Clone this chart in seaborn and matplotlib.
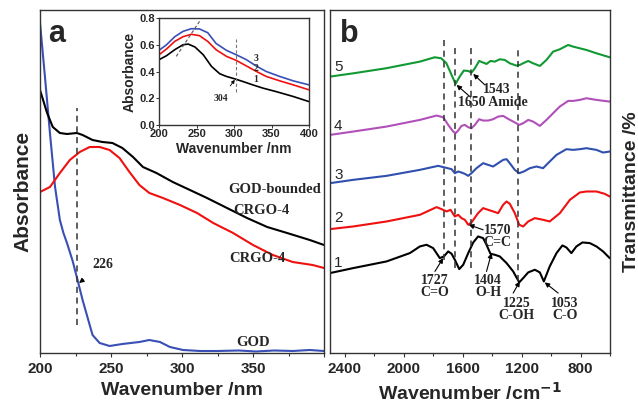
import numpy as np
import pandas as pd
import seaborn as sns
import matplotlib.pyplot as plt

# ---- panel a: UV-vis (arbitrary absorbance units) ----
god_wl = [200, 203.5, 207, 210.6, 214, 216.5, 219, 223, 226.8, 230, 234, 237, 242, 249, 258, 270, 277,
          284.5, 291.5, 300.7, 312.7, 325, 340, 352, 365, 378, 390, 400]
god_abs = [3.30, 2.76, 2.20, 1.66, 1.33, 1.20, 1.10, 0.92, 0.71, 0.53, 0.33, 0.18, 0.10, 0.07, 0.09, 0.11, 0.13,
           0.11, 0.06, 0.03, 0.02, 0.02, 0.025, 0.015, 0.025, 0.02, 0.03, 0.02]

bound_wl = [200, 205, 209, 214, 219, 226, 230, 237, 244, 251, 258, 265.5, 272.5, 282, 293.5, 305.6,
            317.6, 331.7, 345.8, 360, 374, 390, 400]
bound_abs = [2.63, 2.40, 2.26, 2.20, 2.19, 2.20, 2.18, 2.13, 2.11, 2.10, 2.05, 1.96, 1.86, 1.80, 1.71, 1.63,
             1.55, 1.45, 1.35, 1.26, 1.20, 1.13, 1.08]

crgo_wl = [200, 207, 214, 221, 228, 235, 242, 249, 256, 263, 270, 277, 286.6, 298.6, 310.6, 322, 336,
           350, 364, 378, 392, 400]
crgo_abs = [1.61, 1.66, 1.80, 1.93, 2.01, 2.06, 2.06, 2.03, 1.95, 1.81, 1.68, 1.60, 1.55, 1.48, 1.40, 1.30, 1.20,
            1.08, 0.98, 0.91, 0.88, 0.85]

# ---- inset ----
in1_wl = [200, 210, 221, 232, 239, 248, 259, 270, 281, 290, 301, 312, 325, 339, 356, 379, 400]
in1_abs = [0.488, 0.518, 0.563, 0.600, 0.605, 0.583, 0.525, 0.438, 0.383, 0.363, 0.345, 0.325, 0.300,
           0.275, 0.250, 0.213, 0.175]
in2_wl = [200, 210, 221, 232, 243, 254, 265, 276, 290, 303, 316, 330, 343, 361, 379, 400]
in2_abs = [0.525, 0.568, 0.625, 0.660, 0.678, 0.668, 0.625, 0.563, 0.513, 0.483, 0.443, 0.400, 0.363,
           0.330, 0.300, 0.263]
in3_wl = [200, 210, 221, 232, 243, 254, 265, 276, 290, 303, 316, 330, 343, 361, 379, 400]
in3_abs = [0.558, 0.600, 0.660, 0.700, 0.720, 0.718, 0.690, 0.610, 0.558, 0.525, 0.490, 0.440, 0.400,
           0.363, 0.330, 0.300]

# ---- panel b: FTIR (arbitrary transmittance units) ----
wn5 = [2500, 2340, 2120, 1890, 1790, 1745, 1710, 1675, 1648, 1620, 1592, 1562, 1540, 1517, 1488, 1460,
       1438, 1411, 1382, 1348, 1314, 1280, 1235, 1212, 1190, 1155, 1122, 1076, 1031, 986, 941, 884, 850,
       805, 760, 692, 602]
t5 = [83.0, 84.0, 85.5, 87.5, 88.8, 88.5, 87.0, 83.5, 80.8, 83.0, 84.8, 84.7, 84.2, 85.5, 87.7, 87.2,
      86.8, 87.7, 87.5, 88.2, 88.0, 87.0, 86.3, 86.5, 87.0, 87.7, 87.0, 86.2, 88.0, 90.5, 91.2, 92.5, 92.0,
      91.5, 91.0, 90.0, 88.8]

wn4 = [2500, 2342, 2116, 1890, 1777, 1732, 1698, 1664, 1648, 1630, 1608, 1585, 1562, 1540, 1517, 1488,
       1461, 1427, 1393, 1359, 1325, 1291, 1257, 1216, 1189, 1155, 1122, 1076, 1031, 986, 941, 884, 850,
       805, 760, 692, 602]
t4 = [65.5, 66.5, 68.0, 70.0, 71.3, 70.8, 68.5, 66.5, 66.0, 66.8, 68.2, 68.5, 67.8, 67.5, 68.5, 70.2,
      69.8, 69.8, 70.2, 71.0, 71.2, 70.3, 69.5, 68.5, 69.0, 70.0, 69.5, 68.2, 70.0, 72.0, 74.0, 75.7, 75.7,
      76.0, 76.5, 76.0, 75.5]

wn3 = [2500, 2342, 2116, 1890, 1766, 1720, 1675, 1653, 1630, 1608, 1585, 1562, 1540, 1506, 1461, 1427,
       1393, 1359, 1325, 1302, 1280, 1246, 1216, 1185, 1144, 1099, 1054, 1009, 963, 896, 850, 805, 760,
       692, 647, 602]
t3 = [51.0, 52.0, 53.2, 55.0, 56.2, 55.7, 55.2, 54.0, 54.5, 54.2, 53.8, 53.2, 54.0, 55.5, 57.0, 56.5,
      56.0, 57.0, 58.0, 58.2, 57.0, 55.0, 54.0, 54.5, 55.5, 56.0, 55.5, 57.5, 59.5, 61.2, 61.0, 61.2, 61.5,
      61.0, 60.2, 60.5]

wn2 = [2500, 2342, 2116, 1890, 1777, 1743, 1709, 1682, 1653, 1630, 1608, 1585, 1562, 1540, 1495, 1461,
       1427, 1393, 1359, 1325, 1302, 1280, 1246, 1216, 1189, 1155, 1110, 1054, 1009, 940, 872, 805, 760,
       692, 636, 602]
t2 = [37.2, 38.0, 39.5, 41.5, 43.8, 43.2, 42.5, 43.0, 41.0, 41.5, 40.5, 40.0, 38.5, 39.2, 42.0, 43.5,
      43.0, 42.5, 42.0, 44.5, 45.5, 44.8, 42.0, 38.5, 38.0, 39.5, 40.5, 40.0, 39.5, 42.0, 46.0, 48.2, 48.5,
      48.5, 47.8, 47.0]

wn1 = [2500, 2342, 2116, 1958, 1890, 1845, 1800, 1755, 1727, 1698, 1675, 1653, 1623, 1596, 1562, 1528,
       1495, 1461, 1438, 1411, 1382, 1348, 1302, 1257, 1216, 1189, 1155, 1110, 1076, 1049, 1009, 963, 923,
       896, 862, 828, 787, 737, 692, 647, 602]
t1 = [24.0, 25.5, 27.5, 30.0, 32.0, 32.5, 31.5, 28.5, 29.0, 30.5, 29.8, 28.0, 25.2, 26.5, 30.0, 33.2,
      35.0, 34.5, 32.5, 29.8, 29.5, 29.0, 27.0, 24.5, 21.2, 22.5, 24.2, 25.0, 24.2, 21.5, 26.0, 30.0, 32.3,
      31.7, 30.0, 32.0, 33.2, 33.0, 32.0, 30.5, 28.5]

fig = plt.figure(figsize=(6.38, 4.04), dpi=100)
sns.set_style("ticks")
plt.rcParams['font.family'] = ['Liberation Sans', 'DejaVu Sans']
plt.rcParams['font.weight'] = 'bold'
plt.rcParams['axes.labelweight'] = 'bold'

serif = ['Liberation Serif', 'DejaVu Serif']
lw = 1.5
frame = '#333333'

axa = fig.add_axes([40 / 638, 51 / 404, 284 / 638, 343 / 404])
axb = fig.add_axes([330 / 638, 51 / 404, 280 / 638, 343 / 404])
axi = fig.add_axes([159 / 638, 279 / 404, 150 / 638, 107 / 404])

# panel a
sns.lineplot(x=god_wl, y=god_abs, color='#3a4fb5', lw=lw, ax=axa)
sns.lineplot(x=bound_wl, y=bound_abs, color='black', lw=lw, ax=axa)
sns.lineplot(x=crgo_wl, y=crgo_abs, color='#f01010', lw=lw, ax=axa)
axa.plot([226, 226], [0.28, 2.45], ls=(0, (4, 3)), color='#333333', lw=1.1)
axa.set_xlim(200, 400)
axa.set_ylim(0, 3.43)
axa.set_xticks([200, 250, 300, 350, 400])
axa.set_xticklabels(['200', '250', '300', '350', ''])
axa.set_xticks([225, 275, 325, 375], minor=True)
axa.set_yticks([])
axa.tick_params(axis='x', labelsize=11, length=3, width=0.8, color=frame)
axa.tick_params(axis='x', which='minor', length=2, width=0.8, color=frame)
axa.set_xlabel('Wavenumber /nm', fontsize=14, labelpad=4)
axa.set_ylabel('Absorbance', fontsize=15, va='center', ha='center')
axa.yaxis.set_label_coords(-0.06, 0.47)
axa.text(0.06, 0.93, 'a', transform=axa.transAxes, fontsize=22, fontweight='bold', ha='center', va='center')
tkw = dict(family=serif, fontweight='bold', fontsize=10.5, ha='center', va='center')
axa.text(365, 1.64, 'GOD-bounded', **tkw)
axa.text(356, 1.43, 'CRGO-4', **tkw)
axa.text(353, 0.94, 'CRGO-4', **tkw)
axa.text(350, 0.11, 'GOD', **tkw)
axa.annotate('226', xy=(227.5, 0.70), xytext=(244, 0.88), ha='center', va='center',
             family=serif, fontweight='bold', fontsize=10,
             arrowprops=dict(arrowstyle='-|>', color='black', lw=0.8, mutation_scale=7, shrinkA=6, shrinkB=0))

# inset
sns.lineplot(x=in1_wl, y=in1_abs, color='black', lw=1.2, ax=axi)
sns.lineplot(x=in2_wl, y=in2_abs, color='#f01010', lw=1.2, ax=axi)
sns.lineplot(x=in3_wl, y=in3_abs, color='#3a4fb5', lw=1.2, ax=axi)
axi.plot([223, 254], [0.513, 0.775], ls=(0, (3, 2)), color='#555555', lw=0.8)
axi.plot([303, 303], [0.25, 0.64], ls=(0, (3, 2)), color='#777777', lw=0.8)
axi.set_xlim(200, 400)
axi.set_ylim(0, 0.8)
axi.set_xticks([200, 250, 300, 350, 400])
axi.set_yticks([0.0, 0.2, 0.4, 0.6, 0.8])
axi.set_yticklabels(['0.0', '0.2', '0.4', '0.6', '0.8'])
axi.tick_params(labelsize=8, length=2, width=0.7, pad=1, color=frame)
axi.set_xlabel('Wavenumber /nm', fontsize=10, labelpad=2)
axi.set_ylabel('Absorbance', fontsize=10, labelpad=2)
ikw = dict(family=serif, fontweight='bold', fontsize=7, ha='center', va='center')
axi.text(329, 0.50, '3', **ikw)
axi.text(329, 0.42, '2', **ikw)
axi.text(329, 0.34, '1', **ikw)
axi.annotate('304', xy=(301, 0.338), xytext=(283, 0.20), ha='center', va='center',
             family=serif, fontweight='bold', fontsize=7,
             arrowprops=dict(arrowstyle='-|>', color='black', lw=0.6, mutation_scale=5, shrinkA=4, shrinkB=0))

# panel b
for wn, t, c in [(wn1, t1, 'black'), (wn2, t2, '#f01010'), (wn3, t3, '#3050b0'),
                 (wn4, t4, '#b050b8'), (wn5, t5, '#119933')]:
    sns.lineplot(x=wn, y=t, color=c, lw=lw, ax=axb)
for pos, top, bot in [(1727, 94.5, 28), (1650, 91.5, 25.5), (1543, 92.5, 25.5), (1225, 91.5, 21.5)]:
    axb.plot([pos, pos], [bot, top], ls=(0, (4, 3)), color='#333333', lw=1.1)
axb.set_xlim(2500, 600)
axb.set_ylim(0, 103)
axb.set_xticks([2400, 2000, 1600, 1200, 800])
axb.set_xticks([2200, 1800, 1400, 1000, 600], minor=True)
axb.set_yticks([])
axb.tick_params(axis='x', labelsize=11, length=3, width=0.8, color=frame)
axb.tick_params(axis='x', which='minor', length=2, width=0.8, color=frame)
axb.set_xlabel('Wavenumber /cm$^{\\mathbf{-1}}$', fontsize=14, labelpad=4)
axb.yaxis.set_label_position('right')
axb.set_ylabel('Transmittance /%', fontsize=14, rotation=90, va='center', ha='center')
axb.yaxis.set_label_coords(1.075, 0.47)
axb.text(0.07, 0.93, 'b', transform=axb.transAxes, fontsize=22, fontweight='bold', ha='center', va='center')
for lab, yv in [('5', 86), ('4', 68.2), ('3', 53.5), ('2', 40.5), ('1', 27)]:
    axb.text(2444, yv, lab, fontsize=11, fontweight='normal', ha='center', va='center')

akw = dict(family=serif, fontweight='bold', fontsize=10, ha='center', va='center', linespacing=0.95)
aprops = dict(arrowstyle='-|>', color='black', lw=0.8, mutation_scale=7, shrinkA=0, shrinkB=0)
axb.annotate('', xy=(1528, 83.8), xytext=(1449, 80.5), arrowprops=aprops)
axb.text(1368, 79, '1543', **akw)
axb.annotate('', xy=(1641, 80.5), xytext=(1551, 77), arrowprops=aprops)
axb.text(1395, 75.2, '1650 Amide', **akw)
axb.annotate('', xy=(1558, 38.5), xytext=(1461, 37), arrowprops=aprops)
axb.text(1362, 35, '1570\nC=C', **akw)
axb.annotate('', xy=(1732, 28.5), xytext=(1788, 24.5), arrowprops=aprops)
axb.text(1788, 20, '1727\nC=O', **akw)
axb.annotate('', xy=(1404, 30), xytext=(1438, 24.5), arrowprops=aprops)
axb.text(1427, 20, '1404\nO-H', **akw)
axb.annotate('', xy=(1212, 21.5), xytext=(1257, 18), arrowprops=aprops)
axb.text(1235, 13, '1225\nC-OH', **akw)
axb.annotate('', xy=(1043, 21.2), xytext=(952, 18), arrowprops=aprops)
axb.text(907, 13, '1053\nC-O', **akw)

for ax in (axa, axb, axi):
    for s in ax.spines.values():
        s.set_visible(True)
        s.set_color(frame)
        s.set_linewidth(1.0)

fig.savefig('out.png', dpi=100)
